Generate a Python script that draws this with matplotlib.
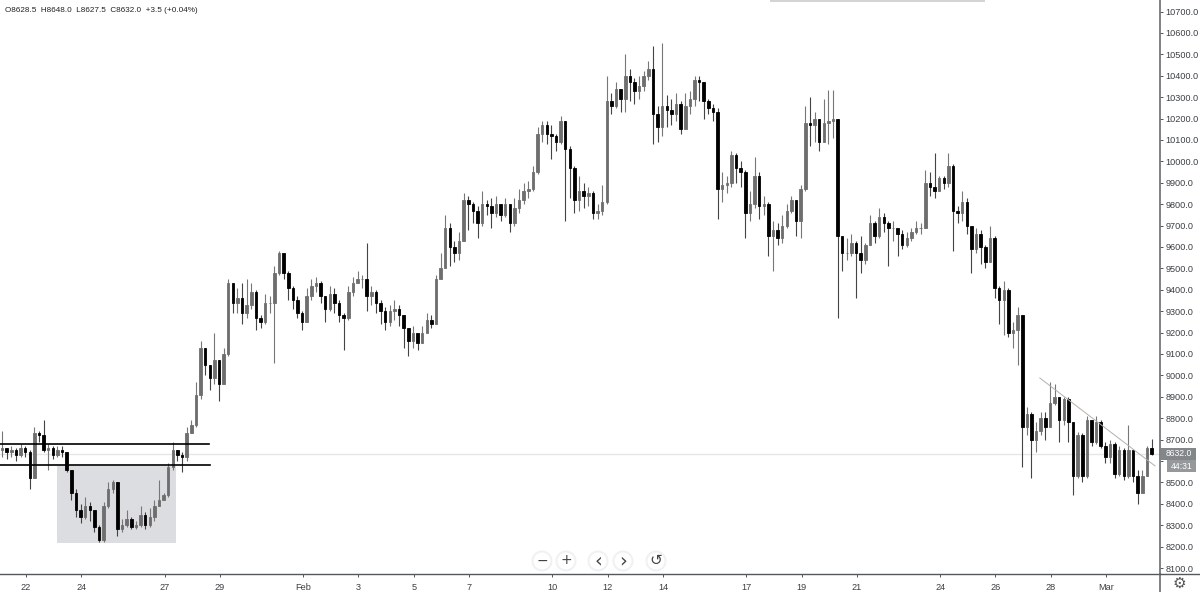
import numpy as np
from matplotlib import pyplot as plt
from matplotlib.patches import Rectangle, Circle

plt.rcParams['font.family'] = ['Liberation Sans', 'DejaVu Sans']

# candles, six per day, first one at day -0.866 (day 0 = Jan 22)
closes = [
    8660, 8640, 8650, 8630, 8660, 8640, 8520, 8730, 8720, 8650,
    8660, 8630, 8650, 8640, 8560, 8450, 8370, 8340, 8390, 8370,
    8290, 8230, 8390, 8470, 8500, 8280, 8300, 8330, 8290, 8300,
    8350, 8300, 8340, 8390, 8420, 8440, 8570, 8650, 8630, 8620,
    8730, 8770, 8910, 9130, 9050, 8990, 9070, 8960, 9100, 9430,
    9340, 9360, 9290, 9330, 9390, 9270, 9250, 9340, 9340, 9480,
    9570, 9480, 9410, 9350, 9290, 9250, 9370, 9420, 9430, 9370,
    9310, 9380, 9340, 9280, 9270, 9390, 9430, 9450, 9450, 9370,
    9390, 9340, 9300, 9250, 9300, 9310, 9280, 9220, 9160, 9200,
    9150, 9200, 9260, 9240, 9450, 9500, 9690, 9600, 9570, 9630,
    9820, 9800, 9770, 9710, 9800, 9790, 9760, 9800, 9750, 9800,
    9710, 9780, 9820, 9860, 9870, 9950, 10130, 10170, 10130, 10120,
    10090, 10190, 10060, 9970, 9820, 9860, 9840, 9850, 9760, 9770,
    9810, 10280, 10260, 10340, 10290, 10400, 10370, 10330, 10350, 10400,
    10430, 10220, 10160, 10260, 10240, 10220, 10270, 10150, 10260, 10290,
    10380, 10370, 10280, 10250, 10230, 9870, 9890, 9900, 10030, 9970,
    9950, 9760, 9800, 9930, 9790, 9800, 9650, 9680, 9640, 9700,
    9770, 9820, 9720, 9870, 10180, 10170, 10200, 10090, 10180, 10190,
    10200, 9650, 9570, 9570, 9620, 9570, 9540, 9610, 9710, 9650,
    9740, 9710, 9690, 9690, 9660, 9610, 9640, 9670, 9690, 9690,
    9900, 9880, 9860, 9920, 9900, 9980, 9770, 9760, 9810, 9700,
    9590, 9660, 9600, 9530, 9640, 9410, 9350, 9400, 9200, 9210,
    9280, 8760, 8820, 8700, 8740, 8800, 8760, 8870, 8900, 8790,
    8890, 8780, 8530, 8720, 8530, 8790, 8690, 8780, 8670, 8620,
    8680, 8540, 8650, 8530, 8650, 8530, 8450, 8530, 8660, 8632,
]
highs = [
    8740, 8660, 8670, 8660, 8680, 8670, 8650, 8760, 8740, 8790,
    8680, 8670, 8670, 8670, 8640, 8560, 8470, 8400, 8430, 8410,
    8330, 8300, 8410, 8500, 8510, 8500, 8330, 8370, 8340, 8320,
    8390, 8360, 8380, 8420, 8510, 8450, 8590, 8690, 8650, 8640,
    8760, 8790, 8970, 9160, 9130, 9040, 9200, 9070, 9130, 9450,
    9410, 9410, 9430, 9450, 9430, 9400, 9280, 9380, 9370, 9510,
    9580, 9570, 9490, 9420, 9370, 9300, 9410, 9450, 9460, 9440,
    9370, 9420, 9410, 9350, 9290, 9420, 9460, 9490, 9470, 9620,
    9420, 9400, 9350, 9320, 9330, 9350, 9330, 9280, 9220, 9230,
    9190, 9230, 9290, 9280, 9470, 9570, 9750, 9710, 9630, 9670,
    9850, 9840, 9810, 9790, 9860, 9820, 9830, 9840, 9790, 9830,
    9770, 9830, 9870, 9900, 9910, 9980, 10160, 10190, 10190, 10170,
    10130, 10210, 10190, 10070, 9980, 9930, 9900, 9880, 9860, 9800,
    9890, 10400, 10320, 10370, 10340, 10500, 10430, 10390, 10400, 10420,
    10470, 10540, 10260, 10555, 10310, 10290, 10320, 10280, 10320, 10330,
    10400, 10400, 10370, 10290, 10270, 10250, 9950, 9930, 10050, 10040,
    10000, 9960, 9860, 10020, 9950, 9840, 9810, 9720, 9710, 9750,
    9800, 9840, 9800, 9890, 10260, 10300, 10230, 10200, 10290, 10335,
    10335, 10200, 9640, 9640, 9660, 9630, 9650, 9620, 9750, 9720,
    9780, 9760, 9720, 9720, 9680, 9680, 9670, 9690, 9720, 9710,
    9960, 9950, 10040, 9930, 9930, 10040, 9990, 9790, 9860, 9830,
    9690, 9690, 9680, 9610, 9700, 9650, 9420, 9440, 9410, 9250,
    9320, 9280, 8850, 8830, 8780, 8830, 8830, 8970, 8960, 8900,
    8900, 8900, 8700, 8735, 8730, 8810, 8790, 8810, 8790, 8690,
    8700, 8690, 8670, 8660, 8770, 8640, 8560, 8560, 8670, 8705,
]
lows = [
    8620, 8610, 8620, 8600, 8620, 8620, 8470, 8520, 8690, 8640,
    8560, 8610, 8620, 8620, 8550, 8420, 8340, 8310, 8330, 8320,
    8270, 8220, 8220, 8380, 8450, 8250, 8270, 8290, 8280, 8280,
    8290, 8280, 8290, 8320, 8390, 8420, 8430, 8560, 8600, 8550,
    8600, 8730, 8760, 8890, 9000, 8930, 8960, 8880, 8960, 9090,
    9290, 9290, 9240, 9270, 9310, 9210, 9220, 9240, 9290, 9060,
    9470, 9450, 9350, 9310, 9270, 9210, 9250, 9350, 9390, 9340,
    9250, 9300, 9290, 9250, 9120, 9260, 9370, 9430, 9410, 9300,
    9330, 9290, 9240, 9210, 9230, 9260, 9230, 9130, 9090, 9130,
    9120, 9150, 9200, 9220, 9240, 9450, 9500, 9510, 9530, 9540,
    9640, 9680, 9710, 9640, 9700, 9750, 9690, 9740, 9720, 9740,
    9670, 9700, 9760, 9800, 9830, 9860, 9940, 10090, 10080, 10010,
    10050, 10080, 9720, 9830, 9760, 9770, 9780, 9790, 9730, 9730,
    9750, 9800, 10220, 10250, 10230, 10230, 10280, 10270, 10290, 10330,
    10380, 10080, 10090, 10120, 10160, 10170, 10190, 10130, 10170, 10220,
    10260, 10280, 10200, 10220, 10190, 9730, 9810, 9850, 9880, 9900,
    9880, 9640, 9720, 9780, 9730, 9750, 9560, 9490, 9610, 9620,
    9690, 9760, 9650, 9640, 9860, 10070, 10090, 10050, 10090, 10080,
    10110, 9270, 9490, 9540, 9560, 9360, 9480, 9520, 9610, 9620,
    9640, 9670, 9510, 9630, 9560, 9590, 9600, 9630, 9660, 9660,
    9690, 9840, 9830, 9880, 9870, 9880, 9580, 9710, 9720, 9660,
    9480, 9570, 9520, 9500, 9530, 9360, 9240, 9190, 9180, 9130,
    9050, 8570, 8720, 8520, 8640, 8720, 8700, 8770, 8860, 8690,
    8770, 8690, 8440, 8520, 8500, 8520, 8670, 8680, 8660, 8590,
    8590, 8520, 8530, 8510, 8520, 8500, 8400, 8490, 8530, 8627,
]
firstOpen = 8650

# 8600.0 sits behind the last price box in the reference, so it has no label
priceTicks = list(range(8100, 10800, 100))
priceLabels = ['' if p == 8600 else '%.1f' % p for p in priceTicks]
dayTicks = [0, 2, 5, 7, 10, 12, 14, 16, 19, 21, 23, 26, 28, 30, 33, 35, 37, 39]
dayLabels = ['22', '24', '27', '29', 'Feb', '3', '5', '7', '10', '12', '14',
             '17', '19', '21', '24', '26', '28', 'Mar']

levelPrices = [8680, 8580]
levelEnds = [6.6, 6.65]
zoneDays = [1.12, 5.42]
zonePrices = [8215, 8575]
trendDays = [36.6, 40.76]
trendPrices = [8988, 8577]
lastPrice = 8632.0

TEXT = '#3c3f44'

fig = plt.figure(figsize=(12, 5.92), dpi=100)
ax = fig.add_axes([0, 18 / 592, 1160 / 1200, 574 / 592])

days = -0.866 + np.arange(len(closes)) / 6
closes = np.array(closes, dtype=float)
highs = np.array(highs, dtype=float)
lows = np.array(lows, dtype=float)
opens = np.r_[firstOpen, closes[:-1]]
up = closes >= opens

ax.add_patch(Rectangle((zoneDays[0], zonePrices[0]), zoneDays[1] - zoneDays[0],
                       zonePrices[1] - zonePrices[0], color='#dcdde0', lw=0, zorder=1))
ax.axhline(lastPrice, color='#e6e6e6', lw=1, zorder=1)

ax.vlines(days[up], lows[up], highs[up], color='#777777', lw=0.8, zorder=2)
ax.vlines(days[~up], lows[~up], highs[~up], color='#444444', lw=0.8, zorder=2)
ax.bar(days[up], (closes - opens)[up], bottom=opens[up], width=0.09, color='#6e6e6e',
       edgecolor='#6e6e6e', lw=0.6, zorder=3)
ax.bar(days[~up], (closes - opens)[~up], bottom=opens[~up], width=0.09, color='black',
       edgecolor='black', lw=0.6, zorder=4)

for price, end in zip(levelPrices, levelEnds):
    ax.plot([-0.94, end], [price, price], color='black', lw=1.2, zorder=5)
ax.plot(trendDays, trendPrices, color='#b5b0a8', lw=0.7, zorder=5)

ax.set_xlim(-0.94, 40.94)
ax.set_ylim(8072, 10754)
ax.yaxis.tick_right()
ax.set_yticks(priceTicks)
ax.set_yticklabels(priceLabels)
ax.set_xticks(dayTicks)
ax.set_xticklabels(dayLabels)
ax.tick_params(axis='both', labelsize=6.6, length=2.5, width=0.7, color='#555555',
               labelcolor=TEXT, pad=1.5)
ax.tick_params(axis='x', pad=4)
for side in ['top', 'left']:
    ax.spines[side].set_visible(False)
ax.spines['right'].set_color('#6a6d70')
ax.spines['right'].set_linewidth(1.2)
ax.spines['bottom'].set_color('#55585b')
ax.spines['bottom'].set_linewidth(1.0)

# everything that is not chart data, in pixel coordinates
ui = fig.add_axes([0, 0, 1, 1])
ui.set_xlim(0, 1200)
ui.set_ylim(592, 0)
ui.axis('off')
ui.patch.set_alpha(0)

ui.text(5, 10, 'O8628.5  H8648.0  L8627.5  C8632.0  +3.5 (+0.04%)', fontsize=5.9,
        color='#222222', va='center')
ui.add_patch(Rectangle((770, -2), 215, 3.5, color='#d4d4d4', lw=0))
ui.plot([1160, 1160], [574, 592], color='#6a6d70', lw=1.2)
ui.plot([1160, 1200], [574, 574], color='#55585b', lw=1.0)

ui.add_patch(Rectangle((1161, 448), 35, 12, color='#84878a', lw=0))
ui.add_patch(Rectangle((1167, 460), 29, 12, color='#96999c', lw=0))
ui.text(1178.5, 453.8, '%.1f' % lastPrice, fontsize=6.2, color='white', ha='center', va='center')
ui.text(1181.5, 466.6, '44:31', fontsize=6.2, color='white', ha='center', va='center')

buttonX = [542, 566, 598, 623, 656]
buttonGlyphs = ['\u2212', '+', '\u2039', '\u203a', '\u21ba']
buttonSizes = [10, 10, 14, 14, 11]
for bx, glyph, size in zip(buttonX, buttonGlyphs, buttonSizes):
    ui.add_patch(Circle((bx, 561), 10.5, facecolor='#f1f1f1', edgecolor='none'))
    ui.add_patch(Circle((bx, 561), 8.5, facecolor='white', edgecolor='none'))
    ui.text(bx, 560.5, glyph, fontsize=size, color='#444444', ha='center', va='center',
            family='DejaVu Sans')
ui.text(1179, 583, '\u2699', fontsize=11, color='#555555', ha='center', va='center',
        family='DejaVu Sans')

plt.savefig('out.png', dpi=100)
